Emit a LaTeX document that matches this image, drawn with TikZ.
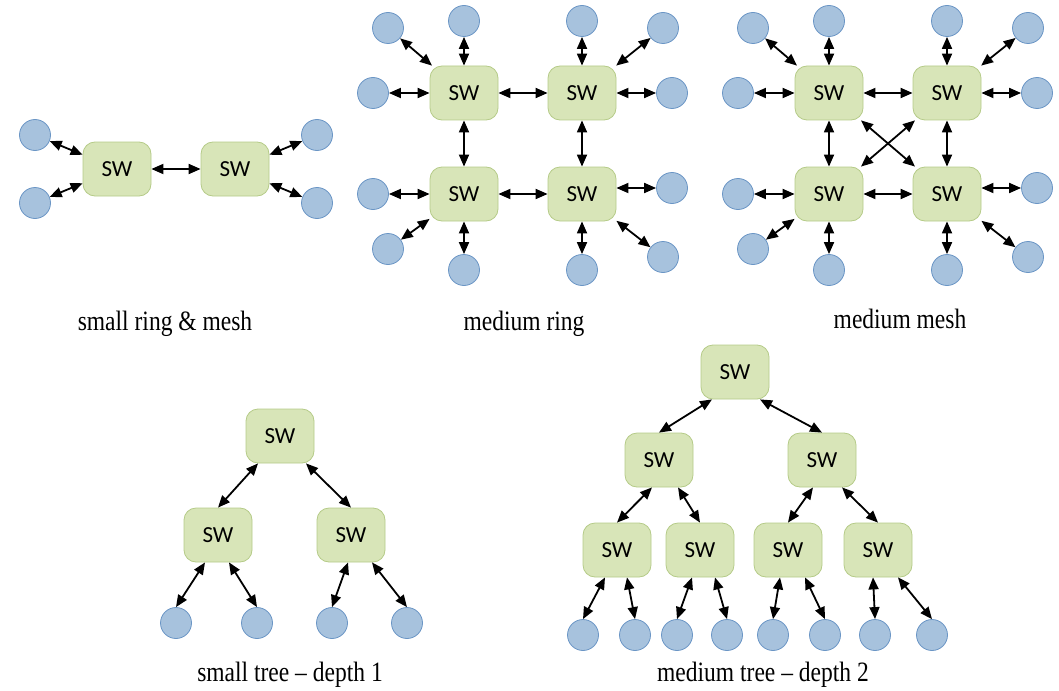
\documentclass[tikz,border=0pt]{standalone}
\usepackage{fontspec}
\setmainfont{Liberation Serif}
\newfontfamily\swfont{Carlito}
\usetikzlibrary{arrows.meta,calc}

\definecolor{swfill}{HTML}{D8E5B8}
\definecolor{swline}{HTML}{B5CB88}
\definecolor{hostfill}{HTML}{A7C2DD}
\definecolor{hostline}{HTML}{6A95C5}

\tikzset{
  swbox/.style={rectangle, rounded corners=12pt, minimum width=68pt, minimum height=54pt,
    fill=swfill, draw=swline, line width=0.8pt, font=\swfont\fontsize{23}{26}\selectfont, inner sep=0pt},
  hostc/.style={circle, minimum size=31pt, inner sep=0pt, fill=hostfill, draw=hostline, line width=0.8pt},
  biarrow/.style={{Triangle[length=12pt,width=10pt]}-{Triangle[length=12pt,width=10pt]}, line width=1.8pt, black},
  caption/.style={font=\fontsize{28}{32}\selectfont, inner sep=0pt, anchor=base, xscale=0.84}
}

\begin{document}
\begin{tikzpicture}[x=1pt, y=-1pt]
\useasboundingbox (0,0) rectangle (1059,690);

% ---------- small ring & mesh ----------
\node[swbox] (s1) at (117,169) {SW};
\node[swbox] (s2) at (235,169) {SW};
\node[hostc] (sa) at (35,135) {};
\node[hostc] (sb) at (35,203) {};
\node[hostc] (sc) at (317,135) {};
\node[hostc] (sd) at (317,203) {};
\draw[biarrow] (sa) -- (s1);
\draw[biarrow] (sb) -- (s1);
\draw[biarrow] (sc) -- (s2);
\draw[biarrow] (sd) -- (s2);
\draw[biarrow] (s1) -- (s2);
\node[caption] (cap1) at (165,330) {small ring \& mesh};

% ---------- medium ring ----------
\node[swbox] (rtl) at (464,93) {SW};
\node[swbox] (rtr) at (582,93) {SW};
\node[swbox] (rbl) at (464,194) {SW};
\node[swbox] (rbr) at (582,194) {SW};
\node[hostc] (r1) at (388,28) {};
\node[hostc] (r2) at (464,21) {};
\node[hostc] (r3) at (373,93) {};
\node[hostc] (r4) at (582,21) {};
\node[hostc] (r5) at (663,28) {};
\node[hostc] (r6) at (672,93) {};
\node[hostc] (r7) at (373,194) {};
\node[hostc] (r8) at (388,249) {};
\node[hostc] (r9) at (464,270) {};
\node[hostc] (r10) at (672,188) {};
\node[hostc] (r11) at (663,257) {};
\node[hostc] (r12) at (582,270) {};
\draw[biarrow] (r1) -- (rtl);
\draw[biarrow] (r2) -- (rtl);
\draw[biarrow] (r3) -- (rtl);
\draw[biarrow] (r4) -- (rtr);
\draw[biarrow] (r5) -- (rtr);
\draw[biarrow] (r6) -- (rtr);
\draw[biarrow] (r7) -- (rbl);
\draw[biarrow] (r8) -- (rbl);
\draw[biarrow] (r9) -- (rbl);
\draw[biarrow] (r10) -- (r10 -| rbr.east);
\draw[biarrow] (r11) -- (rbr);
\draw[biarrow] (r12) -- (rbr);
\draw[biarrow] (rtl) -- (rtr);
\draw[biarrow] (rbl) -- (rbr);
\draw[biarrow] (rtl) -- (rbl);
\draw[biarrow] (rtr) -- (rbr);
\node[caption] (cap2) at (524,330) {medium ring};

% ---------- medium mesh ----------
\node[swbox] (mtl) at (829,93) {SW};
\node[swbox] (mtr) at (947,93) {SW};
\node[swbox] (mbl) at (829,194) {SW};
\node[swbox] (mbr) at (947,194) {SW};
\node[hostc] (m1) at (753,28) {};
\node[hostc] (m2) at (829,21) {};
\node[hostc] (m3) at (738,93) {};
\node[hostc] (m4) at (947,21) {};
\node[hostc] (m5) at (1028,28) {};
\node[hostc] (m6) at (1037,93) {};
\node[hostc] (m7) at (738,194) {};
\node[hostc] (m8) at (753,249) {};
\node[hostc] (m9) at (829,270) {};
\node[hostc] (m10) at (1037,188) {};
\node[hostc] (m11) at (1028,257) {};
\node[hostc] (m12) at (947,270) {};
\draw[biarrow] (m1) -- (mtl);
\draw[biarrow] (m2) -- (mtl);
\draw[biarrow] (m3) -- (mtl);
\draw[biarrow] (m4) -- (mtr);
\draw[biarrow] (m5) -- (mtr);
\draw[biarrow] (m6) -- (mtr);
\draw[biarrow] (m7) -- (mbl);
\draw[biarrow] (m8) -- (mbl);
\draw[biarrow] (m9) -- (mbl);
\draw[biarrow] (m10) -- (m10 -| mbr.east);
\draw[biarrow] (m11) -- (mbr);
\draw[biarrow] (m12) -- (mbr);
\draw[biarrow] (mtl) -- (mtr);
\draw[biarrow] (mbl) -- (mbr);
\draw[biarrow] (mtl) -- (mbl);
\draw[biarrow] (mtr) -- (mbr);
\draw[biarrow] (mtl) -- (mbr);
\draw[biarrow] (mtr) -- (mbl);
\node[caption] (cap3) at (900,328) {medium mesh};

% ---------- small tree, depth 1 ----------
\node[swbox] (t0) at (280,436) {SW};
\node[swbox] (tl) at (218,535) {SW};
\node[swbox] (tr) at (351,535) {SW};
\node[hostc] (th1) at (176,623) {};
\node[hostc] (th2) at (257,623) {};
\node[hostc] (th3) at (332,623) {};
\node[hostc] (th4) at (407,623) {};
\draw[biarrow] ($(t0.south)+(-22,0)$) -- (tl.north);
\draw[biarrow] ($(t0.south)+(26,0)$) -- (tr.north);
\draw[biarrow] ($(tl.south)+(-13,0)$) -- (th1.north);
\draw[biarrow] ($(tl.south)+(11,0)$) -- (th2.north);
\draw[biarrow] ($(tr.south)+(-3,0)$) -- (th3.north);
\draw[biarrow] ($(tr.south)+(21,0)$) -- (th4.north);
\node[caption] (cap4) at (290,681) {small tree -- depth 1};

% ---------- medium tree, depth 2 ----------
\node[swbox] (u0) at (735,372) {SW};
\node[swbox] (ua) at (659,460) {SW};
\node[swbox] (ub) at (822,460) {SW};
\node[swbox] (u1) at (617,550) {SW};
\node[swbox] (u2) at (700,550) {SW};
\node[swbox] (u3) at (788,550) {SW};
\node[swbox] (u4) at (878,550) {SW};
\node[hostc] (uh1) at (583,635) {};
\node[hostc] (uh2) at (635,635) {};
\node[hostc] (uh3) at (677,635) {};
\node[hostc] (uh4) at (727,635) {};
\node[hostc] (uh5) at (773,635) {};
\node[hostc] (uh6) at (825,635) {};
\node[hostc] (uh7) at (875,635) {};
\node[hostc] (uh8) at (932,635) {};
\draw[biarrow] ($(u0.south)+(-23,0)$) -- (ua.north);
\draw[biarrow] ($(u0.south)+(25,0)$) -- (ub.north);
\draw[biarrow] ($(ua.south)+(-7,0)$) -- (u1.north);
\draw[biarrow] ($(ua.south)+(19,0)$) -- (u2.north);
\draw[biarrow] ($(ub.south)+(-9,0)$) -- (u3.north);
\draw[biarrow] ($(ub.south)+(20,0)$) -- (u4.north);
\draw[biarrow] ($(u1.south)+(-12,0)$) -- (uh1.north);
\draw[biarrow] ($(u1.south)+(10,0)$) -- (uh2.north);
\draw[biarrow] ($(u2.south)+(-8,0)$) -- (uh3.north);
\draw[biarrow] ($(u2.south)+(15,0)$) -- (uh4.north);
\draw[biarrow] ($(u3.south)+(-8,0)$) -- (uh5.north);
\draw[biarrow] ($(u3.south)+(17,0)$) -- (uh6.north);
\draw[biarrow] ($(u4.south)+(-5,0)$) -- (uh7.north);
\draw[biarrow] ($(u4.south)+(20,0)$) -- (uh8.north);
\node[caption] (cap5) at (763,681) {medium tree -- depth 2};
\end{tikzpicture}
\end{document}
